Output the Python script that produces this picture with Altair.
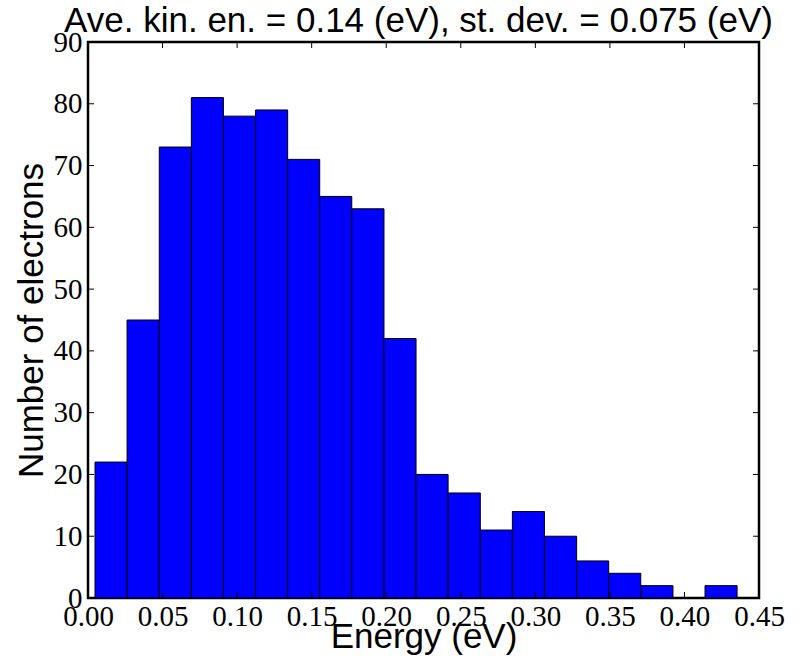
import altair as alt
import pandas as pd

# Histogram bin edges (eV) and counts
bin_edges = [0.0047, 0.0262, 0.0478, 0.0693, 0.0908, 0.1124, 0.1339, 0.1554,
             0.1769, 0.1985, 0.2200, 0.2415, 0.2631, 0.2846, 0.3061, 0.3277,
             0.3492, 0.3707, 0.3923, 0.4138, 0.4353]
counts = [22, 45, 73, 81, 78, 79, 71, 65, 63, 42, 20, 17, 11, 14, 10, 6, 4, 2, 0, 2]

x_ticks = [0.00, 0.05, 0.10, 0.15, 0.20, 0.25, 0.30, 0.35, 0.40, 0.45]
y_ticks = [0, 10, 20, 30, 40, 50, 60, 70, 80, 90]

title_text = "Ave. kin. en. = 0.14 (eV), st. dev. = 0.075 (eV)"
x_title = "Energy (eV)"
y_title = "Number of electrons"

W, H = 671, 556

df = pd.DataFrame({"left": bin_edges[:-1], "right": bin_edges[1:], "count": counts})
xt = pd.DataFrame({"v": x_ticks})
yt = pd.DataFrame({"v": y_ticks})

xscale = alt.Scale(domain=[0, 0.45], nice=False, zero=False)
yscale = alt.Scale(domain=[0, 90], nice=False, zero=True)

label_font = "Liberation Serif"
title_font = "Liberation Sans"

x_axis = alt.Axis(
    values=x_ticks, format=".2f", title=x_title, ticks=False, grid=False,
    labelFont=label_font, labelFontSize=29, labelColor="black", labelPadding=4,
    labelFlush=False, labelOverlap=False, domain=False,
    titleFont=title_font, titleFontSize=35, titleFontWeight="normal", titleColor="black",
    titleBaseline="alphabetic", titleY=49)
y_axis = alt.Axis(
    values=y_ticks, format="d", title=y_title, ticks=False, grid=False,
    labelFont=label_font, labelFontSize=29, labelColor="black", labelPadding=6,
    labelFlush=False, labelOverlap=False, domain=False,
    titleFont=title_font, titleFontSize=35, titleFontWeight="normal", titleColor="black",
    titleAngle=-90, titleBaseline="alphabetic", titleAlign="center",
    titleX=-46, titleY=H / 2)

bars = alt.Chart(df).mark_bar(fill="#0000ff", stroke="black", strokeWidth=1, opacity=1).encode(
    x=alt.X("left:Q", scale=xscale, axis=x_axis),
    x2="right:Q",
    y=alt.Y("count:Q", scale=yscale, axis=y_axis),
    y2=alt.datum(0),
)

tick_len = 6
bottom_ticks = alt.Chart(xt).mark_rule(color="black", strokeWidth=1).encode(
    x=alt.X("v:Q", scale=xscale, axis=x_axis), y=alt.value(H), y2=alt.value(H - tick_len))
top_ticks = alt.Chart(xt).mark_rule(color="black", strokeWidth=1).encode(
    x=alt.X("v:Q", scale=xscale, axis=x_axis), y=alt.value(0), y2=alt.value(tick_len))
left_ticks = alt.Chart(yt).mark_rule(color="black", strokeWidth=1).encode(
    y=alt.Y("v:Q", scale=yscale, axis=y_axis), x=alt.value(0), x2=alt.value(tick_len))
right_ticks = alt.Chart(yt).mark_rule(color="black", strokeWidth=1).encode(
    y=alt.Y("v:Q", scale=yscale, axis=y_axis), x=alt.value(W - tick_len), x2=alt.value(W))

chart = alt.layer(bars, bottom_ticks, top_ticks, left_ticks, right_ticks).properties(
    width=W, height=H,
    title=alt.TitleParams(title_text, font=title_font, fontSize=35, fontWeight="normal",
                          color="black", anchor="middle", offset=7, dx=-5, dy=18),
    autosize=alt.AutoSizeParams(type="none"),
    padding={"left": 88, "top": 42, "right": 41, "bottom": 69},
).configure(background="white").configure_view(stroke="black", strokeWidth=2.5)

chart.save("out.html", embed_options={"renderer": "svg", "actions": False})
